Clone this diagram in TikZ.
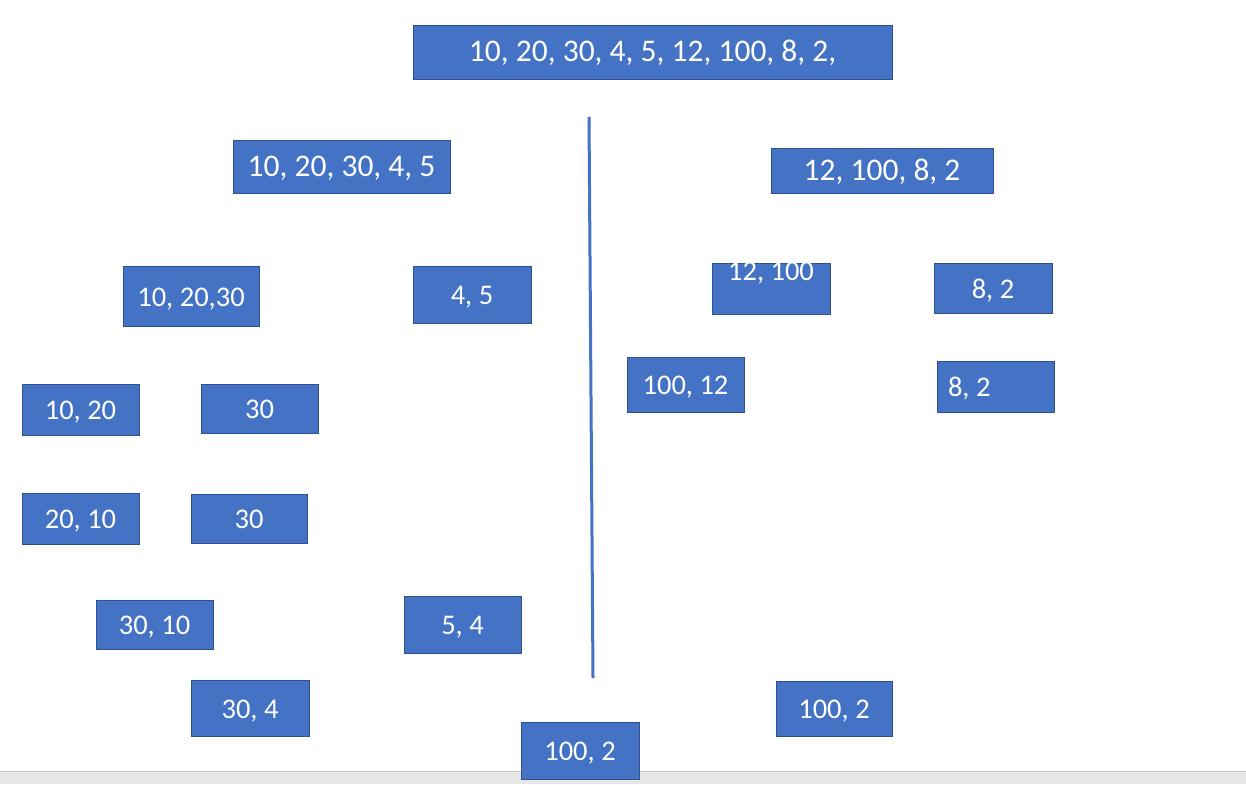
\documentclass[tikz,border=0pt]{standalone}
\usepackage{fontspec}
\setmainfont{Carlito}
\definecolor{boxfill}{HTML}{4472C4}
\definecolor{boxborder}{HTML}{2F528F}
\definecolor{barfill}{HTML}{E6E6E6}
\definecolor{barline}{HTML}{C8C8C8}
\tikzset{
  box/.style={draw=boxborder, fill=boxfill, text=white, inner sep=0pt,
    line width=0.9pt, font=\fontsize{28.5}{32}\selectfont,
    text height=22pt, text depth=1.4pt},
  bigtext/.style={font=\fontsize{31.5}{36}\selectfont,
    text height=21pt, text depth=1.4pt},
  divider/.style={draw=boxfill, line width=3pt},
}
\begin{document}
\begin{tikzpicture}[x=1pt,y=-1pt]
\useasboundingbox (0,0) rectangle (1246,784);
\fill[white] (0,0) rectangle (1246,784);
% bottom gray bar
\fill[barfill] (0,771) rectangle (1246,784);
\draw[barline, line width=1pt] (0,771.5) -- (1246,771.5);
% divider
\coordinate (divtop) at (589,117);
\coordinate (divbot) at (593,678);
\draw[divider] (divtop) -- (divbot);
% boxes
\node[box,bigtext,minimum width=479pt,minimum height=54pt] (all) at (652.5,52) {10, 20, 30, 4, 5, 12, 100, 8, 2,};
\node[box,bigtext,minimum width=217pt,minimum height=53pt] (left) at (341.5,166.5) {10, 20, 30, 4, 5};
\node[box,bigtext,minimum width=222pt,minimum height=45pt] (right) at (882,170.5) {12, 100, 8, 2};
\node[box,minimum width=136pt,minimum height=60pt] (l1) at (191,296) {10, 20,30};
\node[box,minimum width=118pt,minimum height=57pt] (l2) at (472,294.5) {4, 5};
\node[box,minimum width=118pt,text height=17pt,text depth=34pt] (r1) at (771,288.5) {12, 100};
\node[box,minimum width=118pt,minimum height=50pt] (r2) at (993,288) {8, 2};
\node[box,minimum width=117pt,minimum height=55pt] (r1s) at (685.5,384.5) {100, 12};
\node[box,minimum width=117pt,minimum height=51pt] (r2s) at (995.5,386.5) {\makebox[95pt][l]{8, 2}};
\node[box,minimum width=117pt,minimum height=51pt] (a) at (80.5,409.5) {10, 20};
\node[box,minimum width=117pt,minimum height=49pt] (b) at (259.5,408.5) {30};
\node[box,minimum width=117pt,minimum height=51pt] (as) at (80.5,518.5) {20, 10};
\node[box,minimum width=116pt,minimum height=49pt] (bs) at (249,518.5) {30};
\node[box,minimum width=117pt,minimum height=49pt] (m1) at (154.5,624.5) {30, 10};
\node[box,minimum width=117pt,minimum height=57pt] (l2s) at (462.5,624.5) {5, 4};
\node[box,minimum width=118pt,minimum height=56pt] (m2) at (250,708) {30, 4};
\node[box,minimum width=118pt,minimum height=57pt] (bot) at (580,750.5) {100, 2};
\node[box,minimum width=116pt,minimum height=55pt] (rm) at (834,708.5) {100, 2};
\end{tikzpicture}
\end{document}
